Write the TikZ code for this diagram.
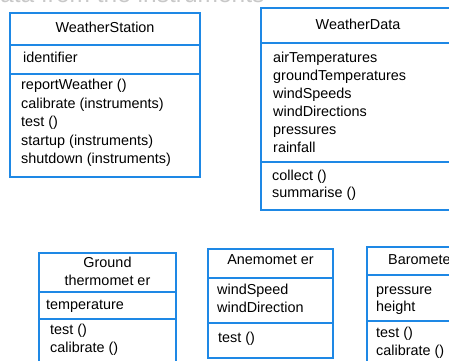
\documentclass[tikz,border=0pt]{standalone}
\usepackage{fontspec}
\setmainfont{Liberation Sans}
\definecolor{umlblue}{RGB}{30,136,229}
\definecolor{fadegray}{RGB}{200,200,200}
\begin{document}
\begin{tikzpicture}[x=1pt,y=-1pt,
  box/.style={draw=umlblue, line width=1.4pt},
  txt/.style={inner sep=0pt, anchor=west, text height=10.4pt, text depth=3pt, font=\fontsize{14.4}{17}\selectfont},
  ttl/.style={txt, anchor=center}]
\useasboundingbox (0,0) rectangle (449,360);
\clip (0,0) rectangle (449,360);
% cut-off heading
\node[inner sep=0pt, anchor=base west, text=fadegray, font=\fontsize{24.5}{28}\selectfont] (head) at (-13.6,2.5) {data from the instruments};
% WeatherStation
\draw[box] (10,13) rectangle (200,177);
\draw[box] (10,45) -- (200,45);
\draw[box] (10,74) -- (200,74);
\node[ttl] (wsT) at (105,29) {WeatherStation};
\node[txt] (wsA) at (23,59) {identifier};
\node[txt] (wsM1) at (21,86) {reportWeather ()};
\node[txt] (wsM2) at (21,104.5) {calibrate (instruments)};
\node[txt] (wsM3) at (21,123) {test ()};
\node[txt] (wsM4) at (21,141.5) {startup (instruments)};
\node[txt] (wsM5) at (21,160) {shutdown (instruments)};
% WeatherData
\draw[box] (261,8) rectangle (456,210);
\draw[box] (261,43) -- (456,43);
\draw[box] (261,162) -- (456,162);
\node[ttl] (wdT) at (358,26) {WeatherData};
\node[txt] (wdA1) at (273,59) {airTemperatures};
\node[txt] (wdA2) at (273,77) {groundTemperatures};
\node[txt] (wdA3) at (273,95) {windSpeeds};
\node[txt] (wdA4) at (273,113) {windDirections};
\node[txt] (wdA5) at (273,131) {pressures};
\node[txt] (wdA6) at (273,149) {rainfall};
\node[txt] (wdM1) at (272,177) {collect ()};
\node[txt] (wdM2) at (272,194) {summarise ()};
% Ground thermometer
\draw[box] (39,253) rectangle (176,372);
\draw[box] (39,292) -- (176,292);
\draw[box] (39,319) -- (176,319);
\node[ttl] (gtT1) at (107.5,264) {Ground};
\node[ttl] (gtT2) at (107.5,282) {thermomet er};
\node[txt] (gtA) at (46,306) {temperature};
\node[txt] (gtM1) at (50,331) {test ()};
\node[txt] (gtM2) at (50,349) {calibrate ()};
% Anemometer
\draw[box] (208,249) rectangle (333,358);
\draw[box] (208,278) -- (333,278);
\draw[box] (208,323) -- (333,323);
\node[ttl] (anT) at (270.5,261) {Anemomet er};
\node[txt] (anA1) at (217,291) {windSpeed};
\node[txt] (anA2) at (217,309) {windDirection};
\node[txt] (anM1) at (218,339) {test ()};
% Barometer
\draw[box] (367,247) rectangle (470,372);
\draw[box] (367,275) -- (470,275);
\draw[box] (367,321) -- (470,321);
\node[txt] (baT) at (388,261) {Barometer};
\node[txt] (baA1) at (376,291) {pressure};
\node[txt] (baA2) at (376,308) {height};
\node[txt] (baM1) at (376,334) {test ()};
\node[txt] (baM2) at (376,352) {calibrate ()};
\end{tikzpicture}
\end{document}
